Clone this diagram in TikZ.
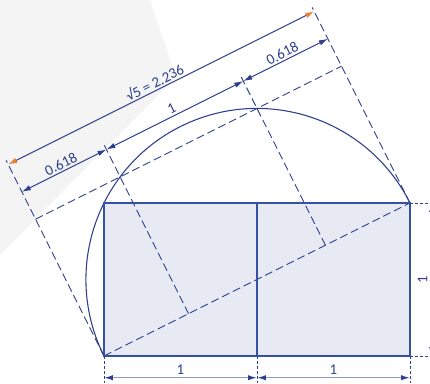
\documentclass[tikz,border=0pt]{standalone}
\usepackage{fontspec}
\setmainfont{Carlito}
\usetikzlibrary{arrows.meta}
\definecolor{dblue}{HTML}{2D3F8E}
\definecolor{rblue}{HTML}{3651A3}
\definecolor{rfill}{HTML}{E7EAF3}
\definecolor{bggray}{HTML}{F4F4F4}
\definecolor{orng}{HTML}{EE7D31}
\definecolor{lblue}{HTML}{8F9BC6}
\tikzset{
  dashln/.style={draw=dblue, line width=0.5pt, dash pattern=on 4.5pt off 2.2pt},
  dotln/.style={draw=dblue, line width=0.5pt, dash pattern=on 1.4pt off 1.4pt},
  dimln/.style={draw=dblue, line width=0.55pt, {Latex[length=5pt,width=3pt]}-{Latex[length=5pt,width=3pt]}},
  dimor/.style={draw=dblue, line width=0.55pt, {Latex[length=5pt,width=3pt,color=orng]}-{Latex[length=5pt,width=3pt,color=orng]}},
  dimbot/.style={draw=lblue, line width=0.8pt, {Latex[length=5pt,width=3pt,color=dblue]}-{Latex[length=5pt,width=3pt,color=dblue]}},
  lbl/.style={text=dblue, font=\fontsize{8.3}{10}\selectfont, inner sep=1pt},
}
\begin{document}
\begin{tikzpicture}[x=3cm,y=3cm]
\useasboundingbox (-0.6797,-0.1765) rectangle (2.1307,2.3268);
% background
\fill[bggray] (-0.6797,2.3268) -- (0.3007,2.3268) -- (0.4705,1.8235) -- (-0.6797,0.6601) -- cycle;
% coordinates
\coordinate (A) at (0,0);
\coordinate (Atop) at (0,1);
\coordinate (Mbot) at (1,0);
\coordinate (Mtop) at (1,1);
\coordinate (Bbot) at (2,0);
\coordinate (B) at (2,1);
% rectangle
\fill[rfill] (A) rectangle (B);
% diagonal
\draw[dashln] (A) -- (B);
% rotated construction
\begin{scope}[rotate=26.5651]
  \coordinate (e1) at (0,1.43);
  \coordinate (e4) at (2.236068,1.43);
  \coordinate (p1) at (0.618034,0);
  \coordinate (q1) at (0.618034,1.25);
  \coordinate (p2) at (1.618034,0);
  \coordinate (q2) at (1.618034,1.25);
  \coordinate (h1) at (0,1);
  \coordinate (h4) at (2.236068,1);
  \coordinate (t1) at (0,1.4);
  \coordinate (t4) at (2.236068,1.4);
  \coordinate (m1) at (0,1.2);
  \coordinate (m2) at (0.618034,1.2);
  \coordinate (m3) at (1.618034,1.2);
  \coordinate (m4) at (2.236068,1.2);
  \draw[dashln] (A) -- (e1);
  \draw[dashln] (B) -- (e4);
  \draw[dashln] (p1) -- (q1);
  \draw[dashln] (p2) -- (q2);
  \draw[dashln] (h1) -- (h4);
  \draw[dimor] (t1) -- node[lbl, rotate=26.5651, anchor=south, pos=0.49] (ls5) {√5 = 2.236} (t4);
  \draw[dimln] (m1) -- node[lbl, rotate=26.5651, anchor=south] (la) {0.618} (m2);
  \draw[dimln] (m2) -- node[lbl, rotate=26.5651, anchor=south] (lb) {1} (m3);
  \draw[dimln] (m3) -- node[lbl, rotate=26.5651, anchor=south] (lc) {0.618} (m4);
\end{scope}
% arc (Thales circle on the diagonal)
\draw[dblue, line width=0.6pt] (B) arc[start angle=26.5651, end angle=206.5651, radius=1.118034];
% rectangle outline
\draw[rblue, line width=1.1pt] (A) rectangle (B);
\draw[rblue, line width=1.1pt] (Mbot) -- (Mtop);
% bottom dimensions
\coordinate (xa) at (0,-0.1765);
\coordinate (xm) at (1,-0.1765);
\coordinate (xb) at (2,-0.1765);
\coordinate (da) at (0,-0.142);
\coordinate (dm) at (1,-0.142);
\coordinate (db) at (2,-0.142);
\draw[dotln] (A) -- (xa);
\draw[dotln] (Mbot) -- (xm);
\draw[dotln] (Bbot) -- (xb);
\draw[dimbot] (da) -- node[lbl, anchor=south, yshift=0.5pt] (l1) {1} (dm);
\draw[dimbot] (dm) -- node[lbl, anchor=south, yshift=0.5pt] (l2) {1} (db);
% right dimension
\coordinate (ya) at (2.1307,0);
\coordinate (yb) at (2.1307,1);
\coordinate (ra) at (2.142,0);
\coordinate (rb) at (2.142,1);
\draw[dotln] (Bbot) -- (ya);
\draw[dotln] (B) -- (yb);
\draw[dimbot] (ra) -- node[lbl, rotate=90, anchor=south, yshift=1pt] (l3) {1} (rb);
\end{tikzpicture}
\end{document}
